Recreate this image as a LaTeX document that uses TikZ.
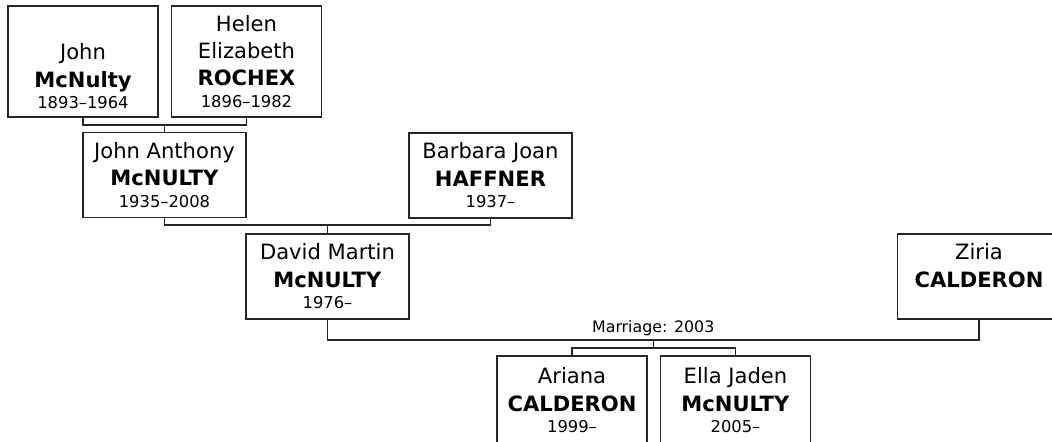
\documentclass[tikz,border=0pt]{standalone}
\usepackage{fontspec}
\setmainfont{DejaVu Sans}
\newcommand{\yrs}[1]{{\fontsize{9.3}{11}\selectfont #1}}
\tikzset{
  person/.style={draw=black!85, line width=0.75pt, align=center, inner sep=0pt,
    font=\fontsize{12}{15.4}\selectfont},
  wide/.style={person, minimum width=3.26cm, minimum height=1.7cm},
  narrow/.style={person, minimum width=3.0cm, minimum height=1.7cm},
  tall/.style={minimum height=2.22cm},
  link/.style={draw=black!85, line width=0.75pt}
}

\begin{document}
\begin{tikzpicture}[x=0.02cm, y=-0.02cm]
  \useasboundingbox (0,0) rectangle (1052,441);
  \clip (0,0) rectangle (1052,441);
  % grandparents
  \node[narrow, tall] (john) at (83,61.5) {\strut\\John\\\textbf{McNulty}\\[-3pt]\yrs{1893–1964}};
  \node[narrow, tall] (helen) at (246.5,61.5) {Helen\\Elizabeth\\\textbf{ROCHEX}\\[-3pt]\yrs{1896–1982}};
  % parents
  \node[wide] (janthony) at (164.5,175) {John Anthony\\\textbf{McNULTY}\\[-3pt]\yrs{1935–2008}};
  \node[wide] (barbara) at (490.5,175.5) {Barbara Joan\\\textbf{HAFFNER}\\[-3pt]\yrs{1937–}};
  % couple
  \node[wide] (david) at (327.5,276.5) {David Martin\\\textbf{McNULTY}\\[-3pt]\yrs{1976–}};
  \node[wide] (ziria) at (979,276.5) {Ziria\\\textbf{CALDERON}\\[-3pt]\yrs{\phantom{1976–}}};
  % children
  \node[narrow, minimum height=1.78cm] (ariana) at (572,400.5) {Ariana\\\textbf{CALDERON}\\[-3pt]\yrs{1999–}};
  \node[narrow, minimum height=1.78cm] (ella) at (735.5,400.5) {Ella Jaden\\\textbf{McNULTY}\\[-3pt]\yrs{2005–}};

  \coordinate (m1) at (164.5,125);
  \coordinate (m2) at (327.5,225);
  \coordinate (m3) at (653.25,340);
  \coordinate (c3) at (653.25,348);

  \draw[link] (john.south) |- (m1) -| (helen.south);
  \draw[link] (m1) -- (janthony.north);
  \draw[link] (janthony.south) |- (m2) -| (barbara.south);
  \draw[link] (m2) -- (david.north);
  \draw[link] (david.south) |- (m3) -| (ziria.south);
  \node[above, inner sep=2pt, font=\fontsize{9}{11}\selectfont] (wed) at (m3) {Marriage: 2003};
  \draw[link] (m3) -- (c3);
  \draw[link] (ariana.north) |- (c3) -| (ella.north);
\end{tikzpicture}
\end{document}
